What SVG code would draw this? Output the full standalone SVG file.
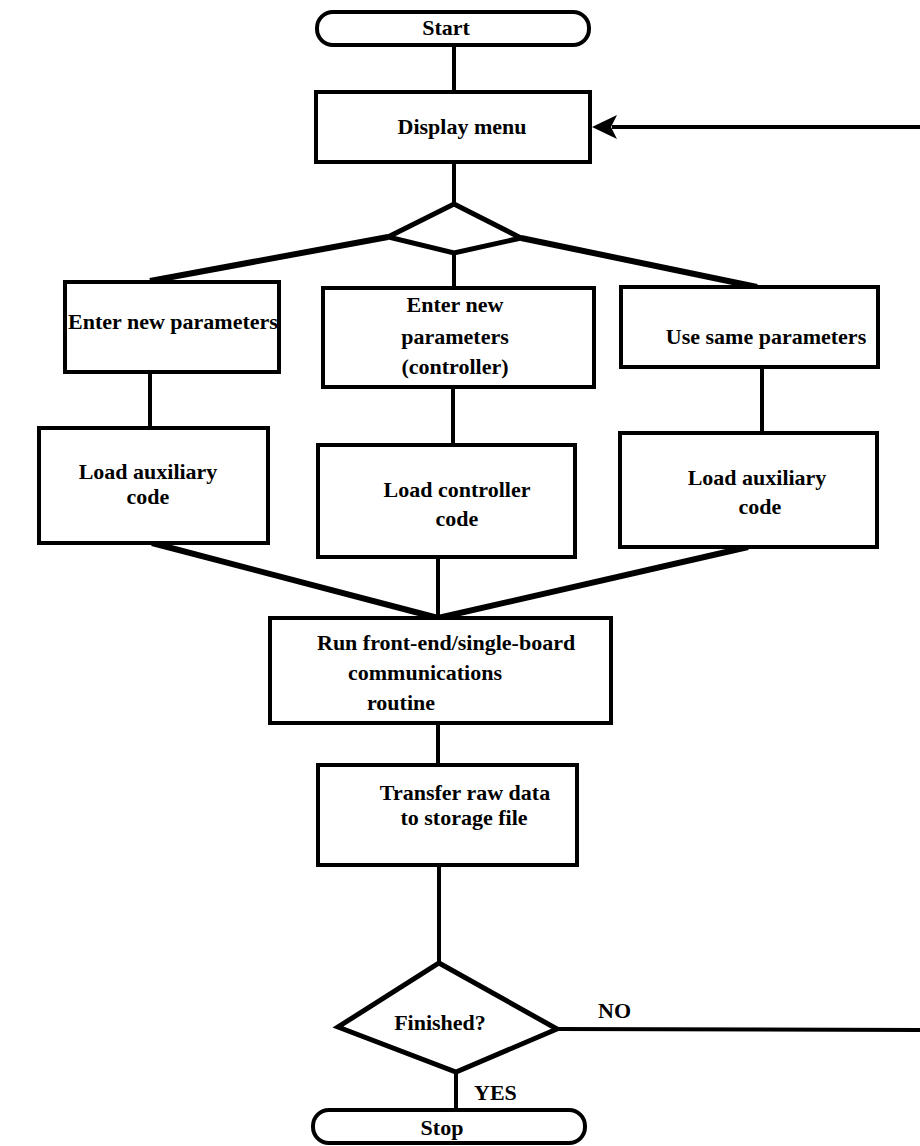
<svg xmlns="http://www.w3.org/2000/svg" width="920" height="1146" viewBox="0 0 920 1146">
  <style>
    .box { fill: #ffffff; stroke: #000000; stroke-width: 4; }
    .term { fill: #ffffff; stroke: #000000; stroke-width: 4; }
    .dec { fill: #ffffff; stroke: #000000; stroke-width: 5; stroke-linejoin: miter; }
    .ln { fill: none; stroke: #000000; stroke-width: 4; }
    .diag { fill: none; stroke: #000000; stroke-width: 6; }
    text { font-family: "Liberation Serif", "Times New Roman", serif; font-weight: bold; font-size: 22px; fill: #000000; }
    .c { text-anchor: middle; }
  </style>
  <rect width="920" height="1146" fill="#ffffff"/>

  <!-- connectors -->
  <g id="connectors">
    <line class="ln" x1="454" y1="45" x2="454" y2="92"/>
    <line class="ln" x1="454" y1="162" x2="454" y2="204"/>
    <line class="diag" x1="388" y1="237" x2="150" y2="281"/>
    <line class="diag" x1="521" y1="238" x2="757" y2="287"/>
    <line class="ln" x1="454" y1="253" x2="454" y2="288"/>
    <line class="ln" x1="150" y1="372" x2="150" y2="428"/>
    <line class="ln" x1="453" y1="387" x2="453" y2="445"/>
    <line class="ln" x1="762" y1="367" x2="762" y2="433"/>
    <line class="diag" x1="152" y1="543" x2="438" y2="618"/>
    <line class="ln" x1="438" y1="557" x2="438" y2="618"/>
    <line class="diag" x1="748" y1="547" x2="438" y2="618"/>
    <line class="ln" x1="438" y1="723" x2="438" y2="765"/>
    <line class="ln" x1="439" y1="865" x2="439" y2="963"/>
    <line class="ln" x1="456" y1="1072" x2="456" y2="1110"/>
    <!-- NO branch back to the menu -->
    <polyline class="ln" points="557,1029 920,1030"/>
    <line class="ln" x1="612" y1="127" x2="920" y2="127"/>
    <polygon points="592,127 617,115 611,127 617,139" fill="#000000"/>
    <text x="598" y="1018">NO</text>
    <text x="474" y="1100">YES</text>
  </g>

  <g id="start">
    <rect class="term" x="317" y="12" width="272" height="33" rx="16" ry="16"/>
    <text class="c" x="446" y="35">Start</text>
  </g>

  <g id="display-menu">
    <rect class="box" x="316" y="92" width="274" height="70"/>
    <text class="c" x="462" y="134">Display menu</text>
  </g>

  <g id="menu-choice">
    <polygon class="dec" points="454,204 521,238 454,253 388,237"/>
  </g>

  <g id="enter-new-params">
    <rect class="box" x="65" y="282" width="214" height="90"/>
    <text class="c" x="173" y="329">Enter new parameters</text>
  </g>

  <g id="enter-new-params-controller">
    <rect class="box" x="323" y="288" width="271" height="99"/>
    <text class="c" x="455" y="312">Enter new</text>
    <text class="c" x="455" y="344">parameters</text>
    <text class="c" x="455" y="374">(controller)</text>
  </g>

  <g id="use-same-params">
    <rect class="box" x="621" y="287" width="257" height="80"/>
    <text class="c" x="766" y="344">Use same parameters</text>
  </g>

  <g id="load-aux-left">
    <rect class="box" x="39" y="428" width="229" height="115"/>
    <text class="c" x="148" y="479">Load auxiliary</text>
    <text class="c" x="148" y="504">code</text>
  </g>

  <g id="load-controller">
    <rect class="box" x="318" y="445" width="257" height="112"/>
    <text class="c" x="457" y="497">Load controller</text>
    <text class="c" x="457" y="526">code</text>
  </g>

  <g id="load-aux-right">
    <rect class="box" x="620" y="433" width="257" height="114"/>
    <text class="c" x="757" y="485">Load auxiliary</text>
    <text class="c" x="760" y="514">code</text>
  </g>

  <g id="run-comms">
    <rect class="box" x="270" y="618" width="341" height="105"/>
    <text x="317" y="650">Run front-end/single-board</text>
    <text x="348" y="680">communications</text>
    <text x="367" y="710">routine</text>
  </g>

  <g id="transfer">
    <rect class="box" x="318" y="765" width="259" height="100"/>
    <text class="c" x="465" y="800">Transfer raw data</text>
    <text class="c" x="464" y="825">to storage file</text>
  </g>

  <g id="finished">
    <polygon class="dec" points="439,963 557,1029 456,1072 338,1027"/>
    <text class="c" x="440" y="1030">Finished?</text>
  </g>

  <g id="stop">
    <rect class="term" x="313" y="1110" width="272" height="33" rx="16" ry="16"/>
    <text class="c" x="442" y="1135">Stop</text>
  </g>
</svg>
